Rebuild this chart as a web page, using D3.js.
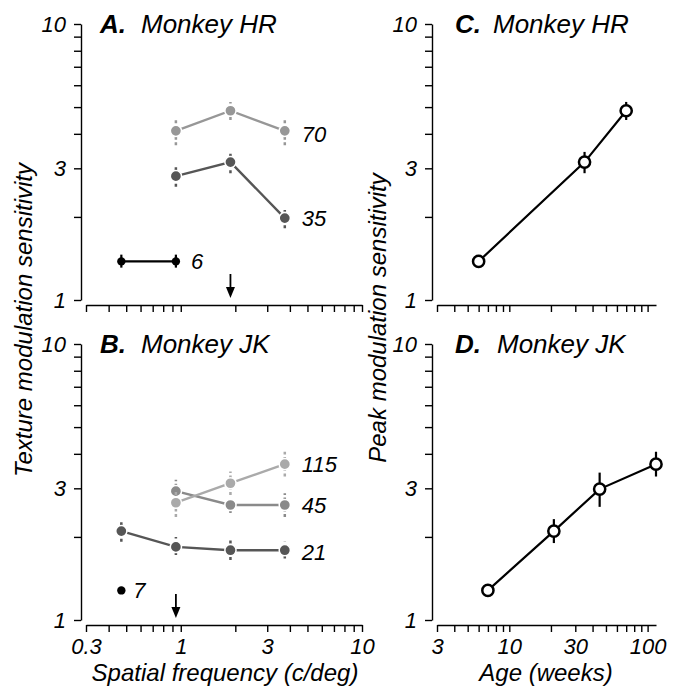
<!DOCTYPE html>
<html>
<head>
<meta charset="utf-8">
<script src="https://cdn.jsdelivr.net/npm/d3@7"></script>
<style>
body { margin: 0; background: #fff; }
text { font-family: "Liberation Sans", Arial, Helvetica, sans-serif; font-style: italic; fill: #000; }
</style>
</head>
<body>
<div id="chart"></div>
<script>
// tick values / labels
var freqTicks = [0.3, 0.4, 0.5, 0.6, 0.7, 0.8, 0.9, 1, 2, 3, 4, 5, 6, 7, 8, 9, 10];
var freqLabels = [0.3, 1, 3, 10];
var ageTicks = [3, 4, 5, 6, 7, 8, 9, 10, 20, 30, 40, 50, 60, 70, 80, 90, 100];
var ageLabels = [3, 10, 30, 100];
var sensTicks = [1, 2, 3, 4, 5, 6, 7, 8, 9, 10];
var sensLabels = [1, 3, 10];

// spatial frequencies tested (c/deg)
var sfLow = [0.47, 0.94];
var sfMid = [0.94, 1.88, 3.75];
var sfAll = [0.47, 0.94, 1.88, 3.75];

// monkey HR, texture modulation sensitivity by age (weeks)
var hr6 = [1.38, 1.38];
var hr6Lo = [1.31, 1.31];
var hr6Hi = [1.46, 1.46];
var hr35 = [2.81, 3.16, 1.98];
var hr35Lo = [2.57, 2.88, 1.82];
var hr35Hi = [3.08, 3.44, 2.12];
var hr70 = [4.10, 4.85, 4.10];
var hr70Lo = [3.64, 4.49, 3.64];
var hr70Hi = [4.57, 5.22, 4.57];

// monkey JK
var jk7 = [1.28];
var jk21 = [2.10, 1.84, 1.79, 1.79];
var jk21Lo = [1.92, 1.72, 1.65, 1.67];
var jk21Hi = [2.30, 2.00, 1.95, 1.92];
var jk45 = [2.93, 2.61, 2.61];
var jk45Lo = [2.65, 2.44, 2.36];
var jk45Hi = [3.22, 2.80, 2.88];
var jk115 = [2.66, 3.13, 3.67];
var jk115Lo = [2.36, 2.84, 3.31];
var jk115Hi = [2.91, 3.45, 4.07];

// peak sensitivity vs age
var hrAges = [6, 35, 70];
var hrPeak = [1.38, 3.16, 4.85];
var hrPeakLo = [1.32, 2.88, 4.49];
var hrPeakHi = [1.44, 3.44, 5.22];
var jkAges = [7, 21, 45, 115];
var jkPeak = [1.28, 2.10, 2.98, 3.67];
var jkPeakLo = [1.28, 1.90, 2.57, 3.31];
var jkPeakHi = [1.28, 2.32, 3.42, 4.07];

// arrows mark the peak frequency
var arrowHR = 1.88;
var arrowJK = 0.94;

var svg = d3.select("#chart")
  .append("svg")
  .attr("width", 680)
  .attr("height", 687);

var xFreq = d3.scaleLog().domain([0.3, 10]).range([86, 362]);
var xAge = d3.scaleLog().domain([3, 115]).range([437, 656]);
var yTop = d3.scaleLog().domain([1, 10]).range([300, 24]);
var yBot = d3.scaleLog().domain([1, 10]).range([620, 344]);

function styleAxis(g) {
  g.attr("font-size", 22)
    .attr("font-family", null);
  g.selectAll("path, line")
    .attr("stroke", "#000")
    .attr("stroke-width", 1.4);
}

function drawAxes(x, y, xAxisY, yAxisX, xTicks, xLabels) {
  var bottomAxis = d3.axisBottom(x)
    .tickValues(xTicks)
    .tickSize(7)
    .tickSizeOuter(0)
    .tickPadding(6)
    .tickFormat(d => (xLabels && xLabels.indexOf(d) >= 0) ? d : "");
  var leftAxis = d3.axisLeft(y)
    .tickValues(sensTicks)
    .tickSize(7)
    .tickSizeOuter(0)
    .tickPadding(8)
    .tickFormat(d => sensLabels.indexOf(d) >= 0 ? d : "");

  svg.append("g")
    .attr("transform", `translate(0, ${xAxisY})`)
    .call(bottomAxis)
    .call(styleAxis);

  svg.append("g")
    .attr("transform", `translate(${yAxisX}, 0)`)
    .call(leftAxis)
    .call(styleAxis);
}

drawAxes(xFreq, yTop, 305, 81, freqTicks, null);
drawAxes(xFreq, yBot, 625, 81, freqTicks, freqLabels);
drawAxes(xAge, yTop, 305, 432, ageTicks, null);
drawAxes(xAge, yBot, 625, 432, ageTicks, ageLabels);

// one curve: line, error bars, markers
function drawCurve(x, y, xs, vals, lo, hi, color, kind) {
  var pts = xs.map((d, i) => ({x: d, v: vals[i], lo: lo ? lo[i] : null, hi: hi ? hi[i] : null}));
  var g = svg.append("g");

  if (pts.length > 1) {
    g.append("path")
      .datum(pts)
      .attr("fill", "none")
      .attr("stroke", color)
      .attr("stroke-width", kind == "open" ? 2.2 : 2.4)
      .attr("d", d3.line().x(d => x(d.x)).y(d => y(d.v)));
  }

  g.selectAll(".err")
    .data(pts.filter(d => d.lo != null))
    .enter()
    .append("line")
    .attr("x1", d => x(d.x))
    .attr("x2", d => x(d.x))
    .attr("y1", d => y(d.lo))
    .attr("y2", d => y(d.hi))
    .attr("stroke", color)
    .attr("stroke-width", kind == "gray" ? 2.5 : 2.2)
    .attr("stroke-dasharray", kind == "gray" ? "3,2.5" : null);

  g.selectAll("circle")
    .data(pts)
    .enter()
    .append("circle")
    .attr("cx", d => x(d.x))
    .attr("cy", d => y(d.v))
    .attr("r", kind == "open" ? 5.6 : (kind == "gray" ? 5.6 : 4.2))
    .attr("fill", kind == "open" ? "#fff" : color)
    .attr("stroke", kind == "open" ? "#000" : (kind == "gray" ? "#fff" : "none"))
    .attr("stroke-width", kind == "open" ? 2.5 : 1.5);
}

function curveLabel(x, y, xv, v, txt, dx) {
  svg.append("text")
    .attr("x", x(xv) + dx)
    .attr("y", y(v))
    .attr("dy", "0.36em")
    .attr("font-size", 22)
    .text(txt);
}

function arrow(x, y, xv) {
  var ax = x(xv);
  var yb = y(1) - 2;
  svg.append("line")
    .attr("x1", ax).attr("x2", ax)
    .attr("y1", yb - 24).attr("y2", yb - 9)
    .attr("stroke", "#000")
    .attr("stroke-width", 1.8);
  svg.append("path")
    .attr("d", `M${ax - 4.5},${yb - 11} L${ax + 4.5},${yb - 11} L${ax},${yb} Z`)
    .attr("fill", "#000");
}

// panel A
drawCurve(xFreq, yTop, sfMid, hr70, hr70Lo, hr70Hi, "#979797", "gray");
drawCurve(xFreq, yTop, sfMid, hr35, hr35Lo, hr35Hi, "#565656", "gray");
drawCurve(xFreq, yTop, sfLow, hr6, hr6Lo, hr6Hi, "#000", "black");
curveLabel(xFreq, yTop, 3.75, 4.0, "70", 17);
curveLabel(xFreq, yTop, 3.75, 1.98, "35", 17);
curveLabel(xFreq, yTop, 0.94, 1.38, "6", 15);
arrow(xFreq, yTop, arrowHR);

// panel B
drawCurve(xFreq, yBot, sfMid, jk45, jk45Lo, jk45Hi, "#8a8a8a", "gray");
drawCurve(xFreq, yBot, sfMid, jk115, jk115Lo, jk115Hi, "#aaaaaa", "gray");
drawCurve(xFreq, yBot, sfAll, jk21, jk21Lo, jk21Hi, "#565656", "gray");
drawCurve(xFreq, yBot, [0.47], jk7, null, null, "#000", "black");
curveLabel(xFreq, yBot, 3.75, 3.67, "115", 17);
curveLabel(xFreq, yBot, 3.75, 2.61, "45", 17);
curveLabel(xFreq, yBot, 3.75, 1.76, "21", 17);
curveLabel(xFreq, yBot, 0.47, 1.28, "7", 12);
arrow(xFreq, yBot, arrowJK);

// panels C and D
drawCurve(xAge, yTop, hrAges, hrPeak, hrPeakLo, hrPeakHi, "#000", "open");
drawCurve(xAge, yBot, jkAges, jkPeak, jkPeakLo, jkPeakHi, "#000", "open");

// panel titles
function panelTitle(x, yb, letter, name, gap) {
  var t = svg.append("text")
    .attr("x", x)
    .attr("y", yb)
    .attr("font-size", 26);
  t.append("tspan").attr("font-weight", "bold").text(letter);
  t.append("tspan").attr("dx", gap).text(name);
}
panelTitle(100, 33, "A.", "Monkey HR", 15);
panelTitle(100, 353, "B.", "Monkey JK", 15);
panelTitle(455, 33, "C.", "Monkey HR", 12);
panelTitle(455, 353, "D.", "Monkey JK", 16);

// axis titles
svg.append("text")
  .attr("transform", "rotate(-90)")
  .attr("x", -320)
  .attr("y", 32)
  .attr("text-anchor", "middle")
  .attr("font-size", 24)
  .text("Texture modulation sensitivity");

svg.append("text")
  .attr("transform", "rotate(-90)")
  .attr("x", -318)
  .attr("y", 386)
  .attr("text-anchor", "middle")
  .attr("font-size", 24)
  .text("Peak modulation sensitivity");

svg.append("text")
  .attr("x", 225)
  .attr("y", 681)
  .attr("text-anchor", "middle")
  .attr("font-size", 24)
  .text("Spatial frequency (c/deg)");

svg.append("text")
  .attr("x", 546)
  .attr("y", 681)
  .attr("text-anchor", "middle")
  .attr("font-size", 24)
  .text("Age (weeks)");
</script>
</body>
</html>
